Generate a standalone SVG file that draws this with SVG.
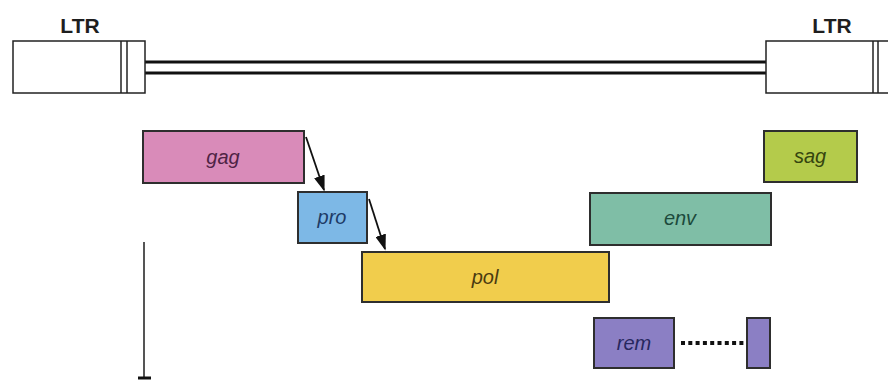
<svg xmlns="http://www.w3.org/2000/svg" width="888" height="381" viewBox="0 0 888 381">
  <defs>
    <marker id="head" viewBox="0 0 10 10" refX="9" refY="5" markerWidth="16" markerHeight="11" markerUnits="userSpaceOnUse" orient="auto" preserveAspectRatio="none">
      <path d="M0,0 L10,5 L0,10 z" fill="#111"/>
    </marker>
    <style>
      .ltr { fill: #fff; stroke: #222; stroke-width: 1.5; }
      .seg { stroke: #222; stroke-width: 1.5; }
      .gene { stroke: #2e2e2e; stroke-width: 2; }
      .lbl { font-family: "Liberation Sans", Arial, sans-serif; font-style: italic; font-size: 20px; text-anchor: middle; }
      .ttl { font-family: "Liberation Sans", Arial, sans-serif; font-weight: bold; font-size: 21px; text-anchor: middle; fill: #1e1e1e; }
      .arrow { stroke: #111; stroke-width: 1.8; fill: none; marker-end: url(#head); }
    </style>
  </defs>
  <rect width="888" height="381" fill="#fff"/>

  <!-- proviral backbone: two LTRs joined by a double line -->
  <g id="backbone">
    <line x1="145" y1="62" x2="766" y2="62" stroke="#111" stroke-width="3"/>
    <line x1="145" y1="73" x2="766" y2="73" stroke="#111" stroke-width="3"/>
  </g>
  <g id="ltr-left">
    <rect class="ltr" x="13" y="41" width="132" height="52"/>
    <line class="seg" x1="121" y1="41" x2="121" y2="93"/>
    <line class="seg" x1="127" y1="41" x2="127" y2="93"/>
    <text class="ttl" x="80" y="33">LTR</text>
  </g>
  <g id="ltr-right">
    <rect class="ltr" x="766" y="41" width="130" height="52"/>
    <line class="seg" x1="873" y1="41" x2="873" y2="93"/>
    <line class="seg" x1="878" y1="41" x2="878" y2="93"/>
    <text class="ttl" x="832" y="33">LTR</text>
  </g>

  <!-- genes -->
  <g id="gag">
    <rect class="gene" x="143" y="131" width="161" height="52" fill="#d98bb9"/>
    <text class="lbl" x="223" y="164" fill="#4e2344">gag</text>
  </g>
  <g id="pro">
    <rect class="gene" x="298" y="192" width="69" height="51" fill="#7db8e6"/>
    <text class="lbl" x="332" y="224" fill="#1e3b66">pro</text>
  </g>
  <g id="pol">
    <rect class="gene" x="362" y="252" width="247" height="50" fill="#f1cd4c"/>
    <text class="lbl" x="485" y="284" fill="#4a3a10">pol</text>
  </g>
  <g id="env">
    <rect class="gene" x="590" y="193" width="181" height="52" fill="#7fbea6"/>
    <text class="lbl" x="680" y="225" fill="#1c4a3c">env</text>
  </g>
  <g id="sag">
    <rect class="gene" x="764" y="131" width="93" height="51" fill="#b4cb4b"/>
    <text class="lbl" x="810" y="163" fill="#35450f">sag</text>
  </g>
  <g id="rem">
    <rect class="gene" x="594" y="318" width="80" height="50" fill="#8b7fc4"/>
    <text class="lbl" x="634" y="350" fill="#27275e">rem</text>
  </g>
  <g id="rem-exon2">
    <rect class="gene" x="747" y="318" width="23" height="50" fill="#8b7fc4"/>
  </g>

  <!-- connectors -->
  <g id="connectors">
    <path class="arrow" d="M306,137 L324,190"/>
    <path class="arrow" d="M369,199 L385,249"/>
    <line x1="681" y1="343" x2="745" y2="343" stroke="#111" stroke-width="4" stroke-dasharray="4,3.3"/>
    <line x1="144" y1="242" x2="144" y2="378" stroke="#555" stroke-width="2"/>
    <line x1="138" y1="378" x2="151" y2="378" stroke="#111" stroke-width="3"/>
  </g>
</svg>
